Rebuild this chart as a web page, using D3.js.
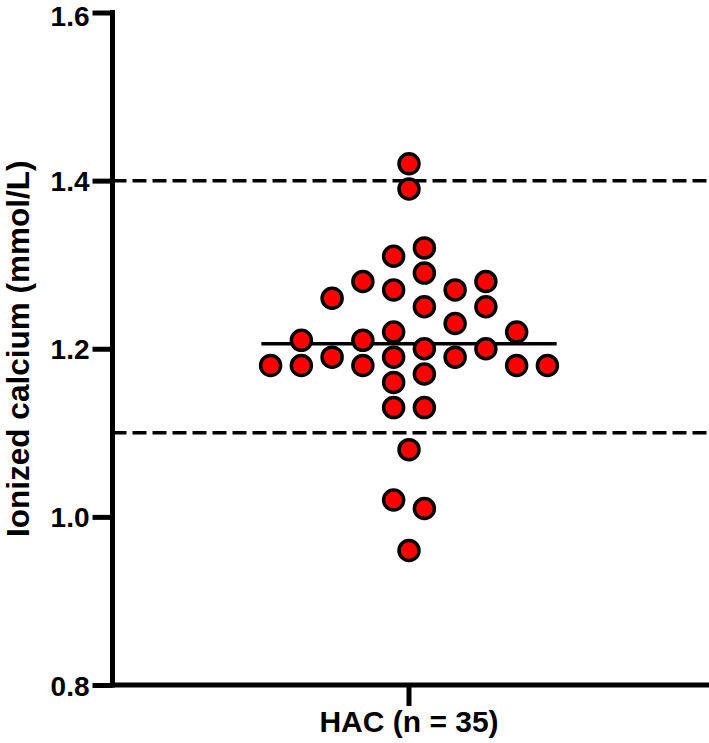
<!DOCTYPE html>
<html>
<head>
<meta charset="utf-8">
<script src="https://cdn.jsdelivr.net/npm/d3@7"></script>
<style>
  html, body { margin: 0; padding: 0; background: #fff; }
  svg { display: block; }
  text { font-family: "Liberation Sans", Arial, Helvetica, sans-serif; font-weight: bold; fill: #000; }
</style>
</head>
<body>
<svg id="chart" width="709" height="743"></svg>
<script>
// ---- data ----
const groupLabel = "HAC (n = 35)";
const yTicks = [0.8, 1.0, 1.2, 1.4, 1.6];
const refLines = [1.4, 1.1];
const values = [1.42, 1.39, 1.32, 1.31, 1.29, 1.28, 1.28, 1.27, 1.27, 1.26,
                1.25, 1.25, 1.23, 1.22, 1.22, 1.21, 1.21, 1.20, 1.20,
                1.19, 1.19, 1.19, 1.18, 1.18, 1.18, 1.18, 1.18,
                1.17, 1.16, 1.13, 1.13, 1.08, 1.02, 1.01, 0.96];
// horizontal swarm slot for each point (half-widths from centre)
const slots  = [0, 0, 1, -1, 1, -3, 5, -1, 3, -5,
                1, 5, 3, -1, 7, -7, -3, 1, 5,
                -5, -1, 3, -9, -7, -3, 7, 9,
                1, -1, -1, 1, 0, -1, 1, 0];
const yLabel = "Ionized calcium (mmol/L)";

// ---- layout ----
const svg = d3.select("#chart");
const axisX = 112.5, axisY = 685, plotTop = 12.5, plotRight = 709;
const cx = 409;
const y = d3.scaleLinear().domain([0.8, 1.6]).range([axisY, plotTop]);
const x = d3.scaleLinear().domain([-9, 9]).range([cx - 138.4, cx + 138.4]);
const mean = d3.mean(values);

// reference dashed lines
svg.selectAll("line.ref").data(refLines).enter().append("line")
  .attr("class", "ref")
  .attr("x1", axisX).attr("x2", plotRight)
  .attr("y1", d => y(d)).attr("y2", d => y(d))
  .attr("stroke", "#000").attr("stroke-width", 3.5)
  .attr("stroke-dasharray", "14,6");

// mean line
svg.append("line")
  .attr("x1", x(-9.6)).attr("x2", x(9.6))
  .attr("y1", y(mean)).attr("y2", y(mean))
  .attr("stroke", "#000").attr("stroke-width", 3.5);

// y axis
const yAxis = d3.axisLeft(y).tickValues(yTicks).tickFormat(d3.format(".1f"))
  .tickSize(20).tickPadding(3);
const gy = svg.append("g").attr("transform", `translate(${axisX},0)`).call(yAxis);
gy.select(".domain").remove();
gy.selectAll(".tick line").attr("stroke", "#000").attr("stroke-width", 5);
gy.selectAll(".tick text").attr("font-size", 28)
  .attr("dy", d => d === 1.6 ? "0.47em" : "0.36em")
  .style("font-family", '"Liberation Sans", Arial, sans-serif').style("font-weight", "bold");
svg.append("line").attr("x1", axisX).attr("x2", axisX).attr("y1", plotTop - 2.5).attr("y2", axisY + 2.5)
  .attr("stroke", "#000").attr("stroke-width", 5);

// x axis
svg.append("line").attr("x1", axisX - 2.5).attr("x2", plotRight).attr("y1", axisY).attr("y2", axisY)
  .attr("stroke", "#000").attr("stroke-width", 5);
const xb = d3.scaleBand().domain([groupLabel]).range([cx - 1, cx + 1]);
const xAxis = d3.axisBottom(xb).tickSize(21).tickPadding(5);
const gx = svg.append("g").attr("transform", `translate(0,${axisY})`).call(xAxis);
gx.select(".domain").remove();
gx.selectAll(".tick line").attr("stroke", "#000").attr("stroke-width", 5);
gx.selectAll(".tick text").attr("font-size", 30)
  .style("font-family", '"Liberation Sans", Arial, sans-serif').style("font-weight", "bold");

// y label
svg.append("text")
  .attr("transform", `translate(29,${(plotTop + axisY) / 2}) rotate(-90)`)
  .attr("text-anchor", "middle")
  .attr("font-size", 31.5)
  .text(yLabel);

// points
svg.selectAll("circle.pt").data(values).enter().append("circle")
  .attr("class", "pt")
  .attr("cx", (d, i) => x(slots[i]))
  .attr("cy", d => y(d))
  .attr("r", 10)
  .attr("fill", "#ff0000")
  .attr("stroke", "#000").attr("stroke-width", 3.5);
</script>
</body>
</html>
